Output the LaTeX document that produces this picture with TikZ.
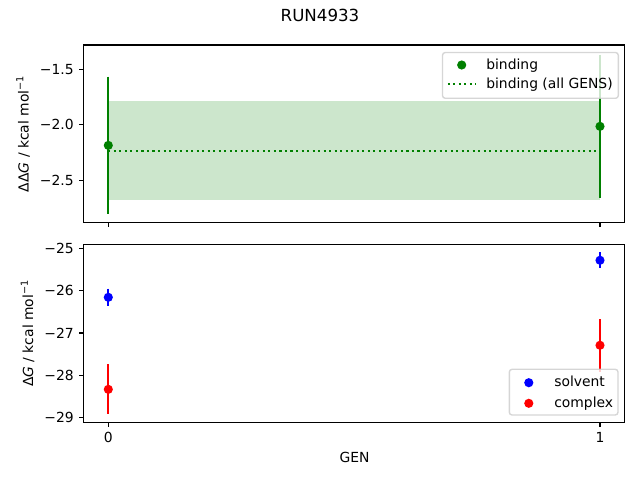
\documentclass[tikz,border=0pt]{standalone}
\usepackage{fontspec}
\setmainfont{DejaVu Sans}
\definecolor{mplgreen}{HTML}{008000}
\definecolor{mplblue}{HTML}{0000FF}
\definecolor{mplred}{HTML}{FF0000}
\begin{document}
\begin{tikzpicture}[x=0.72pt, y=-0.72pt,
  spine/.style={line width=0.8pt},
  ticklab/.style={inner sep=0pt},
  errbar/.style={line width=1.5pt},
  datadot/.style={fill, circle, inner sep=0pt, minimum size=6.6pt},
  legbox/.style={draw=black!20, fill=white, fill opacity=0.8, draw opacity=0.8, rounded corners=2pt, line width=1pt}]
\useasboundingbox (0,0) rectangle (640,480);
\node (title) at (320,15.7) {\fontsize{12}{14}\selectfont RUN4933};

% upper axes
\begin{scope}[shift={(108.3,-97.2)}, x=354.02pt, y=79.92pt]
  \fill[mplgreen, fill opacity=0.2] (0,-1.786) rectangle (1,-2.68);
  \draw[mplgreen, line width=1.5pt, dash pattern=on 1.5pt off 2.475pt] (0,-2.233) -- (1,-2.233);
  \draw[errbar, mplgreen] (0,-1.565) -- (0,-2.805);
  \draw[errbar, mplgreen] (1,-1.371) -- (1,-2.657);
  \node[datadot, mplgreen] (b0) at (0,-2.185) {};
  \node[datadot, mplgreen] (b1) at (1,-2.014) {};
  \draw[spine] (-0.05,-2.878) rectangle (1.05,-1.281);
  \foreach \v/\t in {-1.5/−1.5, -2.0/−2.0, -2.5/−2.5} {
    \draw[spine] (-0.05,\v) -- ++(-3.5pt,0);
    \node[ticklab, anchor=east] at ([xshift=-7pt]-0.05,\v) {\t};
  }
  \foreach \g in {0,1}
    \draw[spine] (\g,-2.878) -- ++(0,-3.5pt);
\end{scope}
\node[rotate=90, anchor=base] (ylab1) at (28.5,133.7) {ΔΔ\textit{G} / kcal mol\textsuperscript{−1}};

% lower axes
\begin{scope}[shift={(108.3,-810.45)}, x=354.02pt, y=30.492pt]
  \draw[errbar, mplblue] (0,-25.95) -- (0,-26.364);
  \draw[errbar, mplblue] (1,-25.093) -- (1,-25.473);
  \draw[errbar, mplred] (0,-27.74) -- (0,-28.92);
  \draw[errbar, mplred] (1,-26.67) -- (1,-27.91);
  \node[datadot, mplblue] (s0) at (0,-26.157) {};
  \node[datadot, mplblue] (s1) at (1,-25.283) {};
  \node[datadot, mplred] (c0) at (0,-28.33) {};
  \node[datadot, mplred] (c1) at (1,-27.29) {};
  \draw[spine] (-0.05,-29.109) rectangle (1.05,-24.906);
  \foreach \v/\t in {-25/−25, -26/−26, -27/−27, -28/−28, -29/−29} {
    \draw[spine] (-0.05,\v) -- ++(-3.5pt,0);
    \node[ticklab, anchor=east] at ([xshift=-7pt]-0.05,\v) {\t};
  }
  \foreach \g in {0,1} {
    \draw[spine] (\g,-29.109) -- ++(0,-3.5pt);
    \node[ticklab] (gen\g) at ([yshift=-10.9pt]\g,-29.109) {\g};
  }
\end{scope}
\node[rotate=90, anchor=base] (ylab2) at (33,333.3) {Δ\textit{G} / kcal mol\textsuperscript{−1}};
\node (xlab) at (354.6,457.3) {GEN};

% legends
\draw[legbox] (442.5,52.5) rectangle (618.3,98.3);
\node[datadot, mplgreen] (lb1) at (461.7,65) {};
\draw[mplgreen, line width=1.5pt, dash pattern=on 1.5pt off 2.475pt] (447.8,84.3) -- (475.6,84.3);
\node[anchor=base west, inner sep=0pt] (lt1) at (486,69.2) {binding};
\node[anchor=base west, inner sep=0pt] (lt2) at (486,88.5) {binding (all GENS)};

\draw[legbox] (509.3,369.3) rectangle (618,415);
\node[datadot, mplblue] (ls) at (528.8,382.7) {};
\node[datadot, mplred] (lc) at (528.8,403.3) {};
\node[anchor=base west, inner sep=0pt] (lt3) at (554,386.9) {solvent};
\node[anchor=base west, inner sep=0pt] (lt4) at (554,407.5) {complex};
\end{tikzpicture}
\end{document}
